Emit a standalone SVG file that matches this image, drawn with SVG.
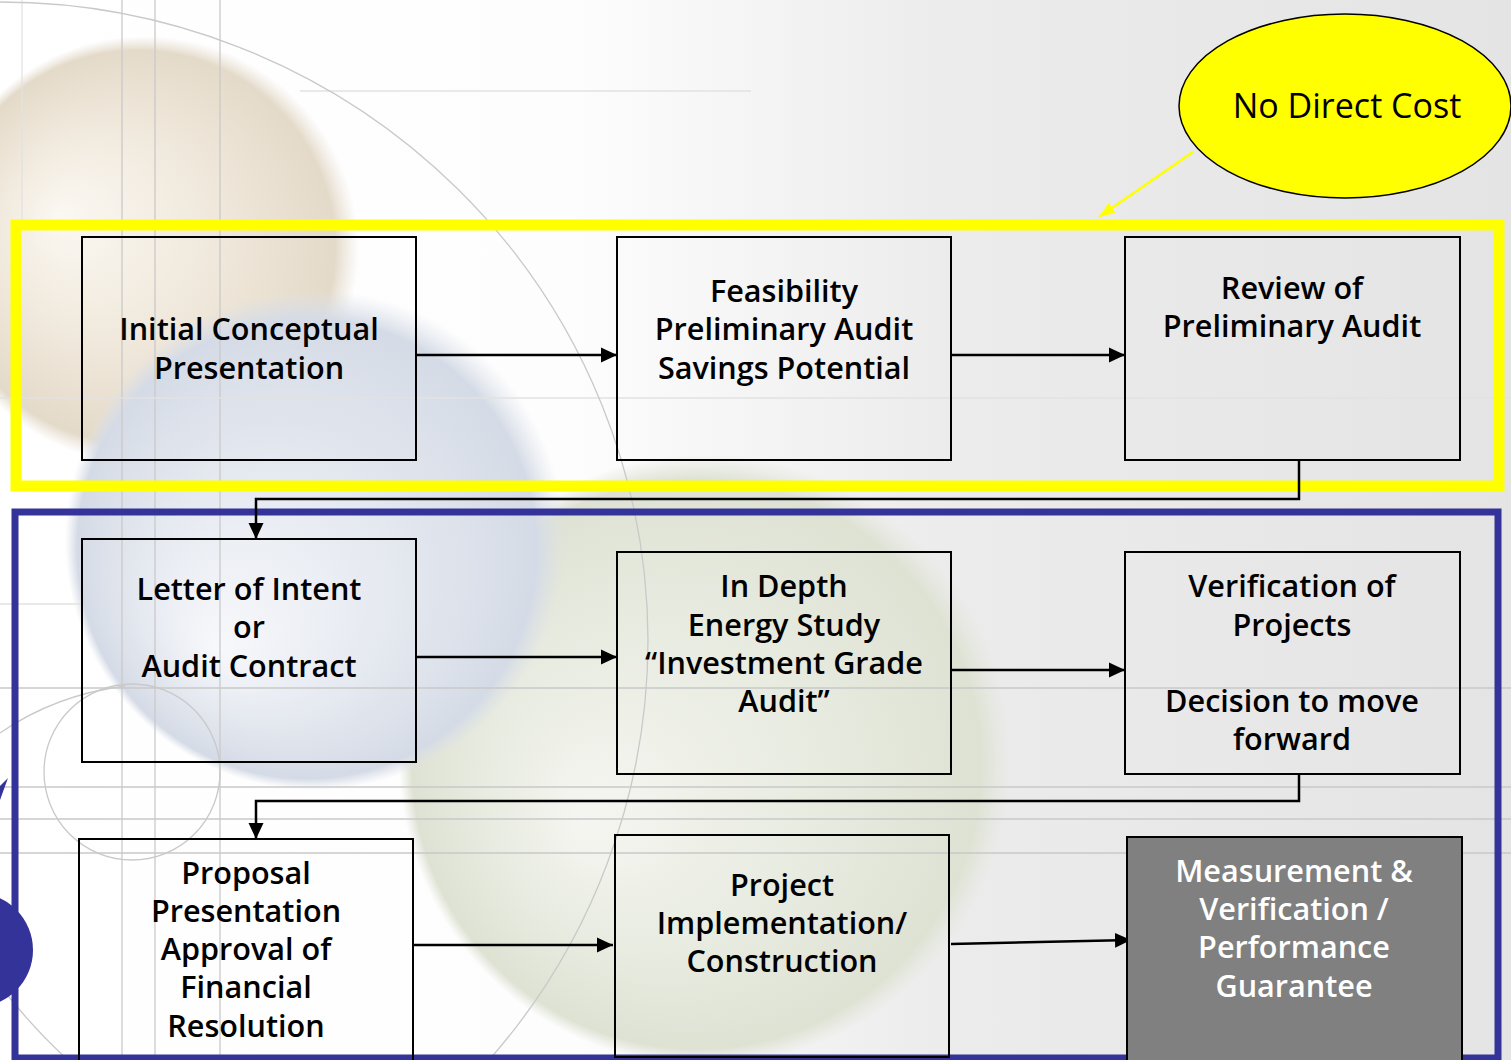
<svg xmlns="http://www.w3.org/2000/svg" width="1511" height="1060" viewBox="0 0 1511 1060">
  <defs>
    <style>
      .box { fill: none; stroke: #000000; stroke-width: 2; }
      .box-dark { fill: #808080; stroke: #000000; stroke-width: 2; }
      .lbl { font-family: "Open Sans", "Noto Sans", "Liberation Sans", sans-serif; font-size: 30.6px; font-weight: 600; fill: #000000; text-anchor: middle; }
      .lbl-w { fill: #ffffff; }
      .link { fill: none; stroke: #000000; stroke-width: 2.5; }
      .grid { fill: none; stroke: #c9c9c9; stroke-width: 1.3; }
      .grid-faint { fill: none; stroke: #e2e2e2; stroke-width: 1.3; }
    </style>
    <linearGradient id="bgGrad" x1="0" y1="0" x2="1" y2="0">
      <stop offset="0" stop-color="#ffffff"/>
      <stop offset="0.38" stop-color="#fdfdfd"/>
      <stop offset="0.62" stop-color="#ececec"/>
      <stop offset="1" stop-color="#e4e4e4"/>
    </linearGradient>
    <radialGradient id="sphereBeige" cx="0.5" cy="0.5" r="0.5" fx="0.3" fy="0.42">
      <stop offset="0" stop-color="#fbf8f2"/>
      <stop offset="0.55" stop-color="#efe7da"/>
      <stop offset="0.92" stop-color="#e4dac9"/>
      <stop offset="1" stop-color="#e8e0d3" stop-opacity="0"/>
    </radialGradient>
    <radialGradient id="sphereBlue" cx="0.5" cy="0.5" r="0.5" fx="0.3" fy="0.72">
      <stop offset="0" stop-color="#f7f8fb"/>
      <stop offset="0.5" stop-color="#e5e9f0"/>
      <stop offset="0.92" stop-color="#d5dbe6"/>
      <stop offset="1" stop-color="#dce1ea" stop-opacity="0"/>
    </radialGradient>
    <radialGradient id="sphereGreen" cx="0.5" cy="0.5" r="0.5" fx="0.3" fy="0.6">
      <stop offset="0" stop-color="#f5f6f1"/>
      <stop offset="0.55" stop-color="#e8ebe0"/>
      <stop offset="0.93" stop-color="#dee2d3"/>
      <stop offset="1" stop-color="#e3e5da" stop-opacity="0"/>
    </radialGradient>
    <marker id="arrowBlack" markerUnits="userSpaceOnUse" markerWidth="16" markerHeight="16" refX="16" refY="8" orient="auto">
      <path d="M0,0.5 L16,8 L0,15.5 Z" fill="#000000"/>
    </marker>
    <marker id="arrowYellow" markerUnits="userSpaceOnUse" markerWidth="16" markerHeight="12" refX="16" refY="6" orient="auto">
      <path d="M0,0 L16,6 L0,12 Z" fill="#ffff00"/>
    </marker>
  </defs>

  <!-- backdrop: gradient, glass spheres and thin guide lines -->
  <g id="backdrop">
    <rect x="0" y="0" width="1511" height="1060" fill="url(#bgGrad)"/>
    <circle cx="145" cy="250" r="214" fill="url(#sphereBeige)"/>
    <circle cx="705" cy="760" r="306" fill="url(#sphereGreen)"/>
    <circle cx="315" cy="540" r="250" fill="url(#sphereBlue)"/>
    <line class="grid-faint" x1="22" y1="0" x2="22" y2="225"/>
    <line class="grid" x1="122" y1="0" x2="122" y2="1060"/>
    <line class="grid" x1="155" y1="0" x2="155" y2="1060"/>
    <line class="grid" x1="220" y1="0" x2="220" y2="1060"/>
    <line class="grid-faint" x1="300" y1="91" x2="751" y2="91"/>
    <line class="grid-faint" x1="0" y1="398" x2="1511" y2="398"/>
    <line class="grid-faint" x1="0" y1="604" x2="82" y2="604"/>
    <line class="grid" x1="0" y1="688" x2="1511" y2="688"/>
    <line class="grid" x1="0" y1="787" x2="1511" y2="787"/>
    <line class="grid" x1="0" y1="819" x2="1511" y2="819"/>
    <line class="grid" x1="0" y1="853" x2="1511" y2="853"/>
    <path class="grid" d="M0,2 A648,640 0 0 1 648,640 A648,640 0 0 1 489,1060"/>
    <circle class="grid" cx="132" cy="772" r="88"/>
    <path class="grid" d="M0,733 Q55,695 125,686"/>
    <path class="grid" d="M5,992 Q35,1030 68,1060"/>
    <circle cx="-24" cy="950" r="57" fill="#333399"/>
    <polygon points="0,800 8,778 0,786" fill="#333399"/>
  </g>

  <!-- phase frames -->
  <g id="frame-no-cost">
    <rect x="16" y="225" width="1483" height="261" fill="none" stroke="#ffff00" stroke-width="11"/>
  </g>
  <g id="frame-contract">
    <rect x="15" y="512" width="1483" height="546" fill="none" stroke="#333399" stroke-width="7"/>
  </g>

  <!-- connectors -->
  <g id="connectors">
    <line class="link" x1="416" y1="355" x2="617" y2="355" marker-end="url(#arrowBlack)"/>
    <line class="link" x1="951" y1="355" x2="1125" y2="355" marker-end="url(#arrowBlack)"/>
    <polyline class="link" points="1299,460 1299,499 256,499 256,539" marker-end="url(#arrowBlack)"/>
    <line class="link" x1="416" y1="657" x2="617" y2="657" marker-end="url(#arrowBlack)"/>
    <line class="link" x1="951" y1="670" x2="1125" y2="670" marker-end="url(#arrowBlack)"/>
    <polyline class="link" points="1299,774 1299,801 256,801 256,839" marker-end="url(#arrowBlack)"/>
    <line class="link" x1="413" y1="945" x2="613" y2="945" marker-end="url(#arrowBlack)"/>
    <line class="link" x1="951" y1="944" x2="1131" y2="940" marker-end="url(#arrowBlack)"/>
    <line x1="1193" y1="152" x2="1099" y2="217" stroke="#ffff00" stroke-width="2.5" marker-end="url(#arrowYellow)"/>
  </g>

  <!-- process steps -->
  <g id="node-initial-presentation">
    <rect class="box" x="82" y="237" width="334" height="223"/>
    <text class="lbl" x="249" y="340">Initial Conceptual</text>
    <text class="lbl" x="249" y="379">Presentation</text>
  </g>
  <g id="node-feasibility">
    <rect class="box" x="617" y="237" width="334" height="223"/>
    <text class="lbl" x="784" y="302">Feasibility</text>
    <text class="lbl" x="784" y="340">Preliminary Audit</text>
    <text class="lbl" x="784" y="379">Savings Potential</text>
  </g>
  <g id="node-review">
    <rect class="box" x="1125" y="237" width="335" height="223"/>
    <text class="lbl" x="1292" y="299">Review of</text>
    <text class="lbl" x="1292" y="337">Preliminary Audit</text>
  </g>
  <g id="node-letter-of-intent">
    <rect class="box" x="82" y="539" width="334" height="223"/>
    <text class="lbl" x="249" y="600">Letter of Intent</text>
    <text class="lbl" x="249" y="638">or</text>
    <text class="lbl" x="249" y="677">Audit Contract</text>
  </g>
  <g id="node-energy-study">
    <rect class="box" x="617" y="552" width="334" height="222"/>
    <text class="lbl" x="784" y="597">In Depth</text>
    <text class="lbl" x="784" y="636">Energy Study</text>
    <text class="lbl" x="784" y="674">“Investment Grade</text>
    <text class="lbl" x="784" y="712">Audit”</text>
  </g>
  <g id="node-verification">
    <rect class="box" x="1125" y="552" width="335" height="222"/>
    <text class="lbl" x="1292" y="597">Verification of</text>
    <text class="lbl" x="1292" y="636">Projects</text>
    <text class="lbl" x="1292" y="712">Decision to move</text>
    <text class="lbl" x="1292" y="750">forward</text>
  </g>
  <g id="node-proposal">
    <rect class="box" x="79" y="839" width="334" height="240"/>
    <text class="lbl" x="246" y="884">Proposal</text>
    <text class="lbl" x="246" y="922">Presentation</text>
    <text class="lbl" x="246" y="960">Approval of</text>
    <text class="lbl" x="246" y="998">Financial</text>
    <text class="lbl" x="246" y="1037">Resolution</text>
  </g>
  <g id="node-implementation">
    <rect class="box" x="615" y="835" width="334" height="222"/>
    <text class="lbl" x="782" y="896">Project</text>
    <text class="lbl" x="782" y="934">Implementation/</text>
    <text class="lbl" x="782" y="972">Construction</text>
  </g>
  <g id="node-measurement">
    <rect class="box-dark" x="1127" y="837" width="335" height="240"/>
    <text class="lbl lbl-w" x="1294" y="882">Measurement &amp;</text>
    <text class="lbl lbl-w" x="1294" y="920">Verification /</text>
    <text class="lbl lbl-w" x="1294" y="958">Performance</text>
    <text class="lbl lbl-w" x="1294" y="997">Guarantee</text>
  </g>

  <!-- callout -->
  <g id="node-no-direct-cost">
    <ellipse cx="1345" cy="106" rx="166" ry="92" fill="#ffff00" stroke="#000000" stroke-width="1.5"/>
    <text x="1347" y="118" font-family="Open Sans, Noto Sans, Liberation Sans, sans-serif" font-size="34" fill="#000000" text-anchor="middle">No Direct Cost</text>
  </g>
</svg>
